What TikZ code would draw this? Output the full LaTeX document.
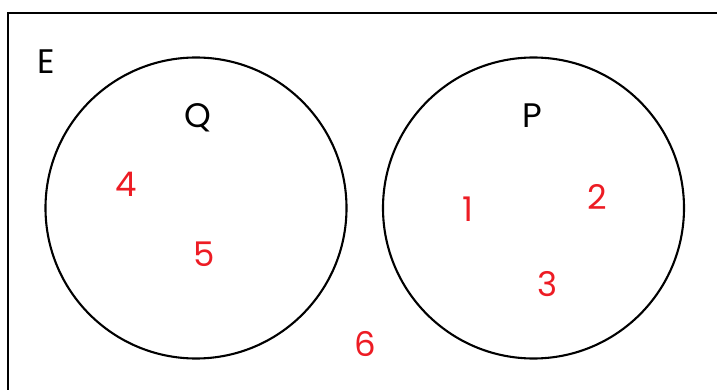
\documentclass[tikz,border=0pt]{standalone}
\usepackage{fontspec}
\setmainfont{Poppins}
\definecolor{numred}{RGB}{237,28,36}
\begin{document}
\begin{tikzpicture}[x=1pt,y=-1pt,
  setcircle/.style={draw=black,line width=2.1pt},
  lab/.style={font=\fontsize{34}{40}\selectfont,text=black,inner sep=0pt},
  num/.style={font=\fontsize{34}{40}\selectfont,text=numred,inner sep=0pt}]
\useasboundingbox (0,0) rectangle (717,390);
\begin{scope}
\clip (0,0) rectangle (717,390);
\draw[line width=2.6pt] (8,13) rectangle (740,420);
\end{scope}
\node[setcircle,circle,minimum size=301pt,inner sep=0pt] (Qc) at (196,208) {};
\node[setcircle,circle,minimum size=301pt,inner sep=0pt] (Pc) at (533.5,208) {};
\node[lab] (E) at (46,62) {E};
\node[lab] (Q) at (198,118) {Q};
\node[lab] (P) at (532,116) {P};
\node[num] (n4) at (126,184) {4};
\node[num] (n5) at (204,254) {5};
\node[num] (n1) at (468,209) {1};
\node[num] (n2) at (597,197) {2};
\node[num] (n3) at (548,284) {3};
\node[num] (n6) at (365,344) {6};
\end{tikzpicture}
\end{document}
